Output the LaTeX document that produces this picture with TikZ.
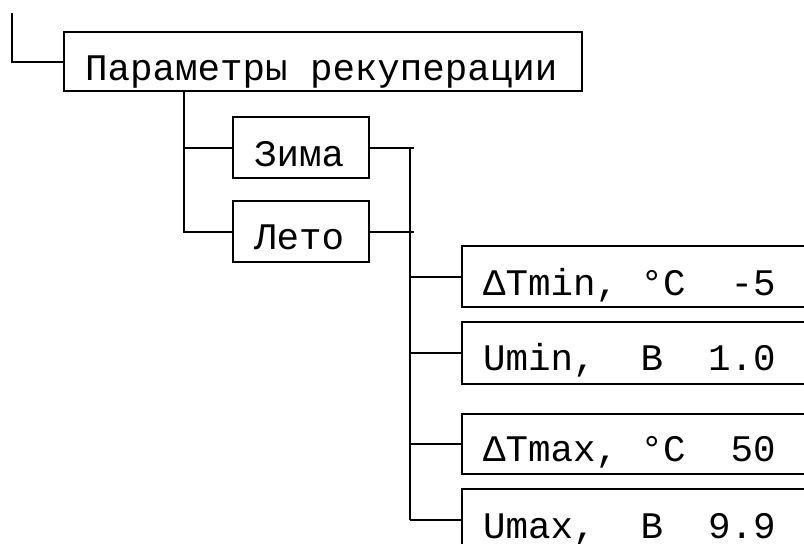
\documentclass[tikz,border=0pt]{standalone}
\usepackage{fontspec}
\setmainfont{Liberation Mono}
\newcommand{\boxfont}{\fontsize{37.5}{40}\selectfont}
\newcommand{\blank}{\hphantom{0}}
\tikzset{
  box/.style={draw, line width=2pt, anchor=north west, inner xsep=21pt, inner ysep=0pt,
    align=left, font=\boxfont},
  link/.style={line width=2pt},
}
\begin{document}
\begin{tikzpicture}[x=1pt,y=-1pt]
\useasboundingbox (0,0) rectangle (804,544);
\clip (0,0) rectangle (804,544);
\node[box, text width=476pt, text height=48pt, text depth=11pt] (main) at (63,31) {Параметры\blank рекуперации};
\node[box, text width=94pt, text height=49pt, text depth=12pt] (zima) at (232,116) {Зима};
\node[box, text width=94pt, text height=48pt, text depth=13pt] (leto) at (232,200) {Лето};
\node[box, text width=360pt, text height=49pt, text depth=12pt] (b1) at (461,245) {ΔTmin,\blank °C\blank\blank -5};
\node[box, text width=360pt, text height=48pt, text depth=14pt] (b2) at (461,321) {Umin,\blank\blank В\blank\blank 1.0};
\node[box, text width=360pt, text height=47pt, text depth=13pt] (b3) at (461,413) {ΔTmax,\blank °C\blank\blank 50};
\node[box, text width=360pt, text height=49pt, text depth=12pt] (b4) at (461,488) {Umax,\blank\blank В\blank\blank 9.9};
\coordinate (stub) at (12,13);
\draw[link] (stub) |- (main.west);
\coordinate (vl) at ([xshift=121pt]main.south west);
\draw[link] (vl) |- (zima.west);
\draw[link] (vl) |- (leto.west);
\draw[link] (zima.east) -- ++(44,0);
\draw[link] (leto.east) -- ++(44,0);
\coordinate (vr) at ([xshift=40pt]zima.east);
\draw[link] (vr) -- (vr |- b4.west);
\foreach \n in {b1,b2,b3,b4} {\draw[link] (vr |- \n.west) -- (\n.west);}
\end{tikzpicture}
\end{document}
